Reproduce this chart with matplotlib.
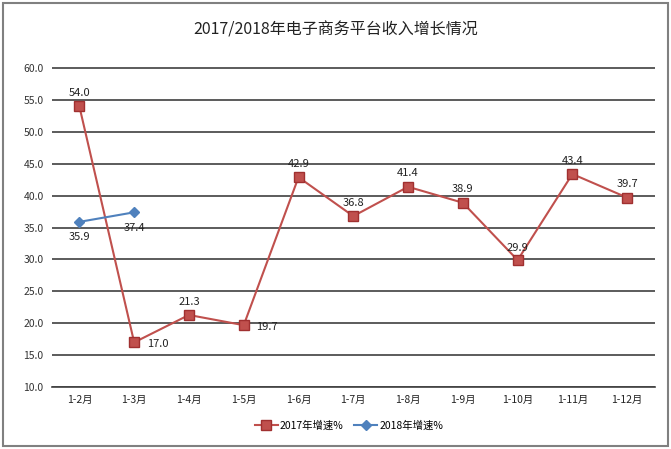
import matplotlib
matplotlib.use("Agg")
import matplotlib.pyplot as plt
from matplotlib.patches import Rectangle

plt.rcParams['font.family'] = ['Noto Sans CJK SC', 'DejaVu Sans']

months = ["1-2月", "1-3月", "1-4月", "1-5月", "1-6月", "1-7月",
          "1-8月", "1-9月", "1-10月", "1-11月", "1-12月"]
growth_2017 = [54.0, 17.0, 21.3, 19.7, 42.9, 36.8, 41.4, 38.9, 29.9, 43.4, 39.7]
growth_2018 = [35.9, 37.4]
y_ticks = [10, 15, 20, 25, 30, 35, 40, 45, 50, 55, 60]

# 数据标签偏移（点）
off_2017 = [(0, 6), (9, -1), (0, 6), (9, -1), (0, 6), (0, 6),
            (0, 6), (0, 6), (0, 5), (0, 6), (0, 6)]
off_2018 = [(0, -11), (0, -11)]

fig = plt.figure(figsize=(6.71, 4.49), dpi=100)
fig.patches.append(Rectangle((0.004, 0.006), 0.991, 0.988, transform=fig.transFigure,
                             fill=False, edgecolor="#808080", linewidth=1.5))
ax = fig.add_axes([0.0775, 0.138, 0.898, 0.713])

x = list(range(len(months)))
ax.plot(x, growth_2017, color="#C0504D", linewidth=1.5, marker="s", markersize=7,
        markerfacecolor="#C0504D", markeredgecolor="#A03030", label="2017年增速%")
ax.plot(x[:len(growth_2018)], growth_2018, color="#4F81BD", linewidth=1.5, marker="D",
        markersize=5, markerfacecolor="#4F81BD", markeredgecolor="#4F81BD", label="2018年增速%")

for i, v in enumerate(growth_2017):
    dx, dy = off_2017[i]
    ax.annotate(f"{v:.1f}", (i, v), xytext=(dx, dy), textcoords="offset points",
                ha="center" if dx == 0 else "left", va="bottom" if dy > 0 else "center",
                fontsize=8, color="#222222")
for i, v in enumerate(growth_2018):
    dx, dy = off_2018[i]
    ax.annotate(f"{v:.1f}", (i, v), xytext=(dx, dy), textcoords="offset points",
                ha="center", va="center", fontsize=8, color="#222222")

ax.set_xlim(-0.5, len(months) - 0.5)
ax.set_ylim(10, 60.2)
ax.set_yticks(y_ticks)
ax.set_yticklabels([f"{t:.1f}" for t in y_ticks], fontsize=7.5, color="#333333")
ax.set_xticks(x)
ax.set_xticklabels(months, fontsize=7.5, color="#222222")
ax.tick_params(length=0, pad=6)
ax.grid(axis="y", color="#404040", linewidth=1.2)
ax.set_axisbelow(True)
for s in ["top", "right", "left"]:
    ax.spines[s].set_visible(False)
ax.spines["bottom"].set_color("#404040")
ax.spines["bottom"].set_linewidth(1.2)

fig.text(0.5, 0.933, "2017/2018年电子商务平台收入增长情况", ha="center", va="center",
         fontsize=11.5, color="#222222")
fig.legend(loc="center", bbox_to_anchor=(0.52, 0.053), ncol=2, frameon=False,
           fontsize=7.5, handlelength=2.2, columnspacing=1.0, handletextpad=0.2)

fig.savefig("out.png", dpi=100)
